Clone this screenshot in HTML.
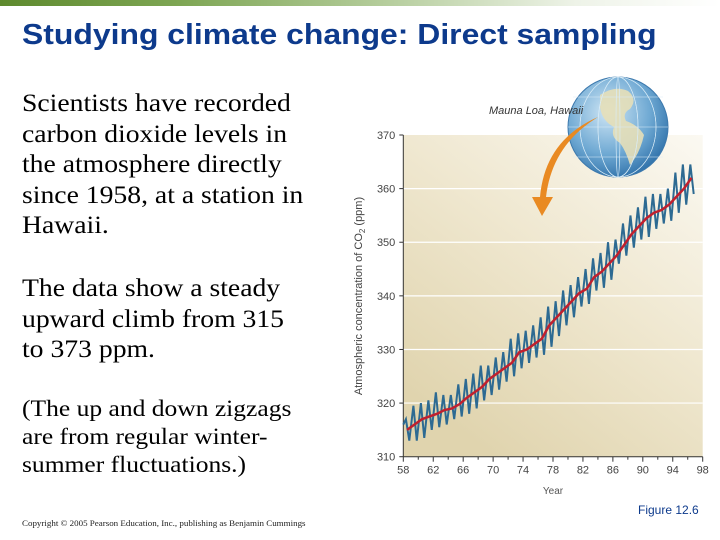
<!DOCTYPE html>
<html><head><meta charset="utf-8"><style>
body{margin:0;width:720px;height:540px;background:#fff;overflow:hidden;position:relative;font-family:"Liberation Serif",serif}
.t{position:absolute;white-space:nowrap;transform-origin:0 0}
</style></head><body>
<div style="position:absolute;left:0;top:0;width:720px;height:6px;background:linear-gradient(90deg,#5e8a2e 0%,#7ea654 25%,#b8cfa0 55%,#eef3e8 80%,#fff 100%)"></div>
<div class="t" style="left:22px;top:19px;font:bold 29px 'Liberation Sans',sans-serif;color:#0d3a8c;transform:scaleX(1.1)">Studying climate change: Direct sampling</div>
<div class="t" style="left:22px;top:88px;font-size:25.5px;line-height:30.5px;color:#000;transform:scaleX(1.085)">Scientists have recorded<br>carbon dioxide levels in<br>the atmosphere directly<br>since 1958, at a station in<br>Hawaii.</div>
<div class="t" style="left:22px;top:273px;font-size:25.5px;line-height:30.5px;color:#000;transform:scaleX(1.085)">The data show a steady<br>upward climb from 315<br>to 373 ppm.</div>
<div class="t" style="left:22px;top:395px;font-size:23px;line-height:28px;color:#000;transform:scaleX(1.11)">(The up and down zigzags<br>are from regular winter-<br>summer fluctuations.)</div>
<div class="t" style="left:22px;top:519px;font-size:8px;color:#222;transform:scaleX(1.12)">Copyright © 2005 Pearson Education, Inc., publishing as Benjamin Cummings</div>
<div class="t" style="left:638px;top:503px;font:12px 'Liberation Sans',sans-serif;color:#0d3a8c">Figure 12.6</div>
<svg id="chart" width="720" height="540" style="position:absolute;left:0;top:0">
<defs>
<linearGradient id="bg" x1="1" y1="0" x2="0.3" y2="1"><stop offset="0" stop-color="#fbf9f2"/><stop offset="0.5" stop-color="#efe7cf"/><stop offset="1" stop-color="#e0d4ae"/></linearGradient>
<radialGradient id="gl" cx="0.4" cy="0.35" r="0.7"><stop offset="0" stop-color="#cfe6f5"/><stop offset="0.6" stop-color="#6fa9d3"/><stop offset="1" stop-color="#2d6fa8"/></radialGradient>
</defs>
</svg>
<script>
const years=[58,59,60,61,62,63,64,65,66,67,68,69,70,71,72,73,74,75,76,77,78,79,80,81,82,83,84,85,86,87,88,89,90,91,92,93,94,95,96];
const trend=[315,316,317,317.5,318,318.7,319,319.8,321,322,323,324.5,325.5,326.5,327.5,329.5,330,331,332,334.5,336,337.5,339,340.5,341.3,343.5,344.5,346,347.5,349.5,351.5,353,354.5,355.5,356,357,358.5,360,362];
const peaks=[317,319.5,320,320.5,322,321.5,321.5,323.5,324.5,325.5,327,327,328.5,329.5,332,333,333.5,334.5,336,338,339,341,342,343.5,345,347,348,350,350.5,353.5,355,356.5,358.5,359,359,360,363,364.5,364.5];
const troughs=[313,313,313.5,315,315.5,316,317,317.5,318,319,320.5,321.5,322.5,324,325,326.5,327.5,328.5,329,330.5,332.5,334.5,336,338,338.5,341,341.5,343,346,347.5,349,350.5,351,352.5,353.5,354,355.5,357,359];
const yTicks=[310,320,330,340,350,360,370];
const xTicks=[58,62,66,70,74,78,82,86,90,94,98];
const X0=403.3,X1=702.7,Y0=456.7,Y1=135;
const xs=v=>X0+(v-58)/40*(X1-X0);
const ys=v=>Y0-(v-310)/60*(Y0-Y1);
const svg=document.getElementById('chart');const NS='http://www.w3.org/2000/svg';
function mk(t,a,p){const e=document.createElementNS(NS,t);for(const k in a)e.setAttribute(k,a[k]);(p||svg).appendChild(e);return e;}
const bg=mk('rect',{x:X0,y:Y1,width:X1-X0,height:Y0-Y1,fill:'url(#bg)'});


yTicks.forEach(v=>{
 if(v>310&&v<370){const g=mk('line',{x1:X0,x2:X1,y1:ys(v),y2:ys(v),stroke:'#fff','stroke-width':1.2});
 
 }
 mk('line',{x1:X0-4,x2:X0,y1:ys(v),y2:ys(v),stroke:'#333'});
 const t=mk('text',{x:X0-8,y:ys(v)+4,'text-anchor':'end','font-size':11,fill:'#444','font-family':'Liberation Sans,sans-serif'});t.textContent=v;
 
 
});
mk('line',{x1:X0,x2:X0,y1:Y1,y2:Y0,stroke:'#333'});
mk('line',{x1:X0,x2:X1,y1:Y0,y2:Y0,stroke:'#333'});
for(let y=58;y<=98;y+=2)mk('line',{x1:xs(y),x2:xs(y),y1:Y0,y2:Y0+(y%4==2?5:3),stroke:'#333'});
xTicks.forEach(v=>{const t=mk('text',{x:xs(v),y:Y0+17,'text-anchor':'middle','font-size':11,fill:'#444','font-family':'Liberation Sans,sans-serif'});t.textContent=v;
 
 });
const xl=mk('text',{x:553,y:494,'text-anchor':'middle','font-size':10,fill:'#555','font-family':'Liberation Sans,sans-serif'});xl.textContent='Year';


const yl=mk('text',{x:0,y:0,'text-anchor':'middle','font-size':11,fill:'#444','font-family':'Liberation Sans,sans-serif',transform:'translate(362,296) rotate(-90)'});yl.innerHTML='Atmospheric concentration of CO<tspan font-size="8" dy="3">2</tspan><tspan dy="-3"> (ppm)</tspan>';


let pts=[];
years.forEach((y,i)=>{pts.push([xs(y+0.35),ys(peaks[i])]);pts.push([xs(y+0.8),ys(troughs[i])]);});
pts.unshift([xs(58),ys(trend[0]+1)]);
const zz=mk('polyline',{points:pts.map(p=>p.join(',')).join(' '),fill:'none',stroke:'#2d6a92','stroke-width':2});


const tl=mk('polyline',{points:years.map((y,i)=>xs(y+0.5)+','+ys(trend[i])).join(' '),fill:'none',stroke:'#c0202e','stroke-width':2.5});


const gg=mk('g',{});


mk('circle',{cx:618,cy:127,r:50,fill:'url(#gl)',stroke:'#3d79ad','stroke-width':1},gg);
mk('path',{d:'M600 95 q15 -10 28 -4 q10 8 2 18 q-8 4 -4 12 q12 4 18 14 q-4 18 -14 30 q-4 -14 -10 -22 q-10 -6 -6 -16 q-12 -6 -14 -20z',fill:'#e6dfb8',opacity:0.9},gg);
for(let k=-2;k<=2;k++){mk('ellipse',{cx:618,cy:127,rx:Math.abs(k)*18+2,ry:50,fill:'none',stroke:'#d9ecf7','stroke-width':0.6},gg);}
[-30,0,30].forEach(d=>mk('line',{x1:568+Math.abs(d)/6,x2:668-Math.abs(d)/6,y1:127+d,y2:127+d,stroke:'#d9ecf7','stroke-width':0.6},gg));
const ml=mk('text',{x:489,y:114,'font-size':11,'font-style':'italic',fill:'#333','font-family':'Liberation Sans,sans-serif'});ml.textContent='Mauna Loa, Hawaii';


const ar=mk('path',{d:'M598 117 Q545 140 540 197 L532 197 L542 216 L553 197 L546 197 Q552 145 598 117z',fill:'#e98a22'});


</script>
</body></html>
